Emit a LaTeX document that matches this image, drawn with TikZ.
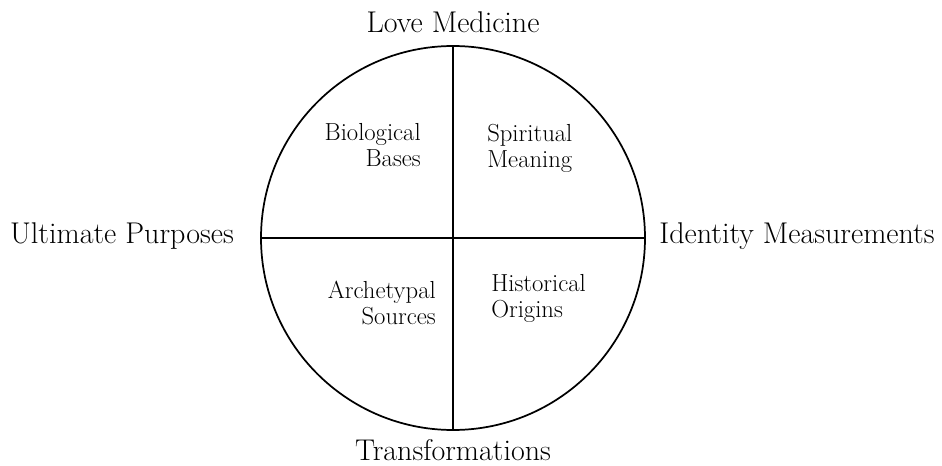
\documentclass[tikz,border=0pt]{standalone}
\begin{document}
\begin{tikzpicture}[x=0.75pt,y=0.75pt,
  outer/.style={font=\fontsize{22.5}{26}\selectfont, inner sep=0pt},
  inner/.style={font=\fontsize{18.5}{19.5}\selectfont, inner sep=0pt},
  ring/.style={line width=1.3pt}]
\useasboundingbox (0,0) rectangle (942,465);
\coordinate (c) at (453,227);
\draw[ring] (c) circle (192);
\coordinate (top) at (453,419);
\coordinate (bot) at (453,35);
\coordinate (lft) at (261,227);
\coordinate (rgt) at (645,227);
\draw[ring] (top) -- (bot);
\draw[ring] (lft) -- (rgt);
\node[outer] (lm) at (453,443) {Love Medicine};
\node[outer] (tr) at (453,15) {Transformations};
\node[outer] (up) at (122,229) {Ultimate Purposes};
\node[outer] (im) at (797,229) {Identity Measurements};
\node[inner, align=right, anchor=east] (bb) at (421,320) {Biological\\Bases};
\node[inner, align=left, anchor=west] (sm) at (487,317) {Spiritual\\Meaning};
\node[inner, align=right, anchor=east] (as) at (436,162) {Archetypal\\Sources};
\node[inner, align=left, anchor=west] (ho) at (491,167) {Historical\\Origins};
\end{tikzpicture}
\end{document}
